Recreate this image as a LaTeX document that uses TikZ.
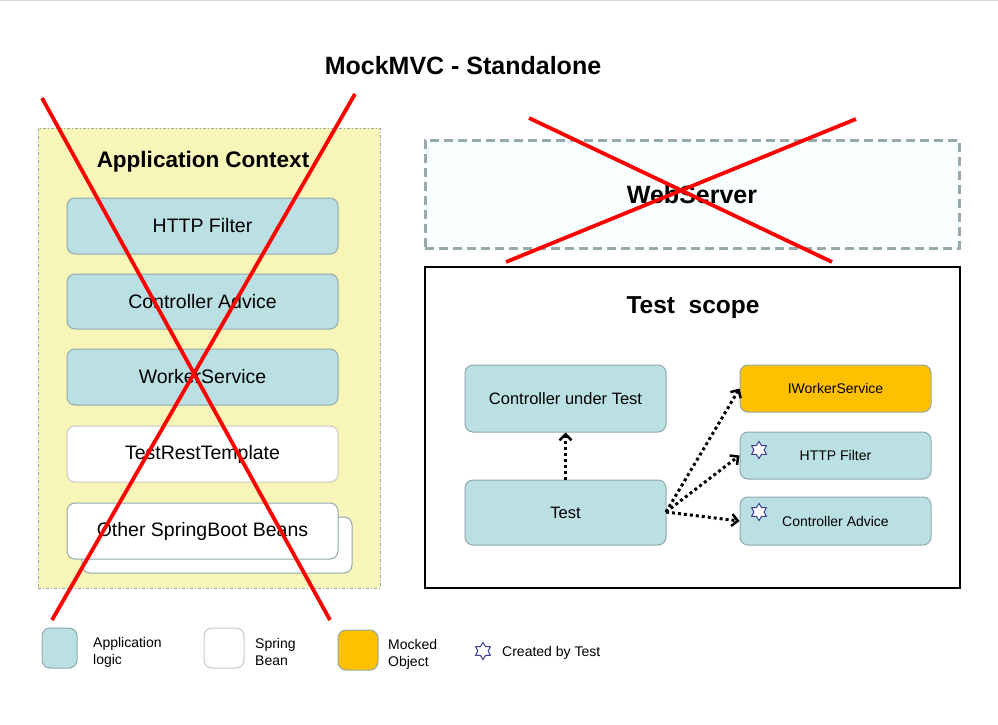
\documentclass[tikz,border=0pt]{standalone}
\usepackage{fontspec}
\setmainfont{Liberation Sans}
\usetikzlibrary{shapes.geometric,arrows.meta,patterns}
\definecolor{applogic}{HTML}{BBE0E3}
\definecolor{appborder}{HTML}{8FA8AB}
\definecolor{ctxbg}{HTML}{F8F5B9}
\definecolor{beanborder}{HTML}{C8C8C8}
\definecolor{mocked}{HTML}{FFC000}
\definecolor{wsborder}{HTML}{97AAAB}
\definecolor{starcol}{HTML}{3C3C96}
\definecolor{xred}{HTML}{FF0000}
\tikzset{
  fs/.style={font=\fontsize{#1}{#1}\selectfont},
  applog/.style={draw=appborder, fill=applogic, rounded corners=8pt, line width=1pt, inner sep=0pt, align=center},
  bean/.style={draw=beanborder, fill=white, rounded corners=8pt, line width=1pt, inner sep=0pt, align=center},
  mock/.style={draw=appborder, fill=mocked, rounded corners=8pt, line width=1pt, inner sep=0pt, align=center},
  createdstar/.style={star, star points=6, star point ratio=1.65, minimum size=17pt, inner sep=0pt, draw=starcol, fill=white, line width=1pt},
  cross/.style={draw=xred, line width=3.8pt},
  dotarrow/.style={line width=3pt, dash pattern=on 3pt off 3pt, -{Straight Barb[length=6pt,width=12pt,line width=2.5pt]}},
  legendtext/.style={font=\fontsize{14}{17}\selectfont, anchor=west, align=left, inner sep=0pt},
}
\begin{document}
\begin{tikzpicture}[x=1pt,y=-1pt]
\useasboundingbox (0,0) rectangle (998,725);
\fill[white] (0,0) rectangle (998,725);
\draw[line width=1.5pt, black!15] (0,0.75) -- (998,0.75);

% title
\node[font=\bfseries\fontsize{25}{25}\selectfont] (title) at (463,66) {MockMVC - Standalone};

% application context
\node[draw=appborder, fill=ctxbg, dash pattern=on 3pt off 2pt on 1pt off 2pt, line width=0.8pt, minimum width=342pt, minimum height=460pt, inner sep=0pt] (ctx) at (209,358) {};
\node[font=\bfseries\fontsize{22.5}{22.5}\selectfont] (ctxlabel) at (203,162) {Application Context};

\node[applog, fs=19.5, minimum width=271pt, minimum height=56pt] (httpf) at (202.5,226) {HTTP Filter};
\node[applog, fs=19.5, minimum width=271pt, minimum height=55pt] (cadv) at (202.5,301.5) {Controller Advice};
\node[applog, fs=19.5, minimum width=271pt, minimum height=56pt] (worker) at (202.5,377) {WorkerService};
\node[bean, fs=19.5, minimum width=271pt, minimum height=56pt] (trt) at (202.5,454) {TestRestTemplate};
\node[bean, draw=appborder, minimum width=270pt, minimum height=56pt] (otherback) at (217,545) {};
\node[bean, draw=appborder, fs=19.5, minimum width=271pt, minimum height=56pt] (other) at (202.5,531) {Other SpringBoot Beans};

% web server
\node[draw=wsborder, dash pattern=on 9pt off 5pt, line width=3pt, pattern=dots, pattern color=cyan!35, minimum width=534pt, minimum height=108pt, inner sep=0pt] (ws) at (692,194) {};
\node[font=\bfseries\fontsize{25}{25}\selectfont] (wslabel) at (692,195) {WebServer};

% test scope
\node[draw=black, line width=2pt, fill=white, minimum width=535pt, minimum height=321pt, inner sep=0pt] (scope) at (692.5,427.5) {};
\node[font=\bfseries\fontsize{24.5}{24.5}\selectfont] (scopelabel) at (693,308) {Test\ \ scope};

\node[applog, fs=16.5, minimum width=201pt, minimum height=67pt] (cut) at (565.5,398.5) {Controller under Test};
\node[applog, fs=16.5, minimum width=201pt, minimum height=65pt] (test) at (565.5,512.5) {Test};
\node[mock, fs=14, minimum width=191pt, minimum height=47pt] (iws) at (835.5,388.5) {IWorkerService};
\node[applog, fs=14, minimum width=191pt, minimum height=47pt] (hf2) at (835.5,455.5) {HTTP Filter};
\node[applog, fs=14, minimum width=191pt, minimum height=48pt] (ca2) at (835.5,521) {Controller Advice};
\node[createdstar] (star1) at (759,450) {};
\node[createdstar] (star2) at (759,512) {};

\coordinate (tstart) at (666,512);
\draw[dotarrow] (test.north) -- (cut.south);
\draw[dotarrow] (tstart) -- (iws.west);
\draw[dotarrow] (tstart) -- (hf2.west);
\draw[dotarrow] (tstart) -- (ca2.west);

% red crosses
\coordinate (c1a) at (42,98);
\coordinate (c1b) at (330,620);
\coordinate (c2a) at (355,94);
\coordinate (c2b) at (52,620);
\draw[cross] (c1a) -- (c1b);
\draw[cross] (c2a) -- (c2b);
\coordinate (c3a) at (529,118);
\coordinate (c3b) at (832,262);
\coordinate (c4a) at (856,119);
\coordinate (c4b) at (506,262);
\draw[cross] (c3a) -- (c3b);
\draw[cross] (c4a) -- (c4b);

% legend
\node[applog, minimum width=35pt, minimum height=40pt] (lg1) at (59.5,648) {};
\node[legendtext] (lg1t) at (93,652) {Application\\logic};
\node[bean, minimum width=40pt, minimum height=40pt] (lg2) at (224,648) {};
\node[legendtext] (lg2t) at (255,652) {Spring\\Bean};
\node[mock, minimum width=40pt, minimum height=40pt] (lg3) at (358,650) {};
\node[legendtext] (lg3t) at (388,654) {Mocked\\Object};
\node[createdstar] (lg4) at (483,651) {};
\node[legendtext] (lg4t) at (502,653) {Created by Test};
\end{tikzpicture}
\end{document}
